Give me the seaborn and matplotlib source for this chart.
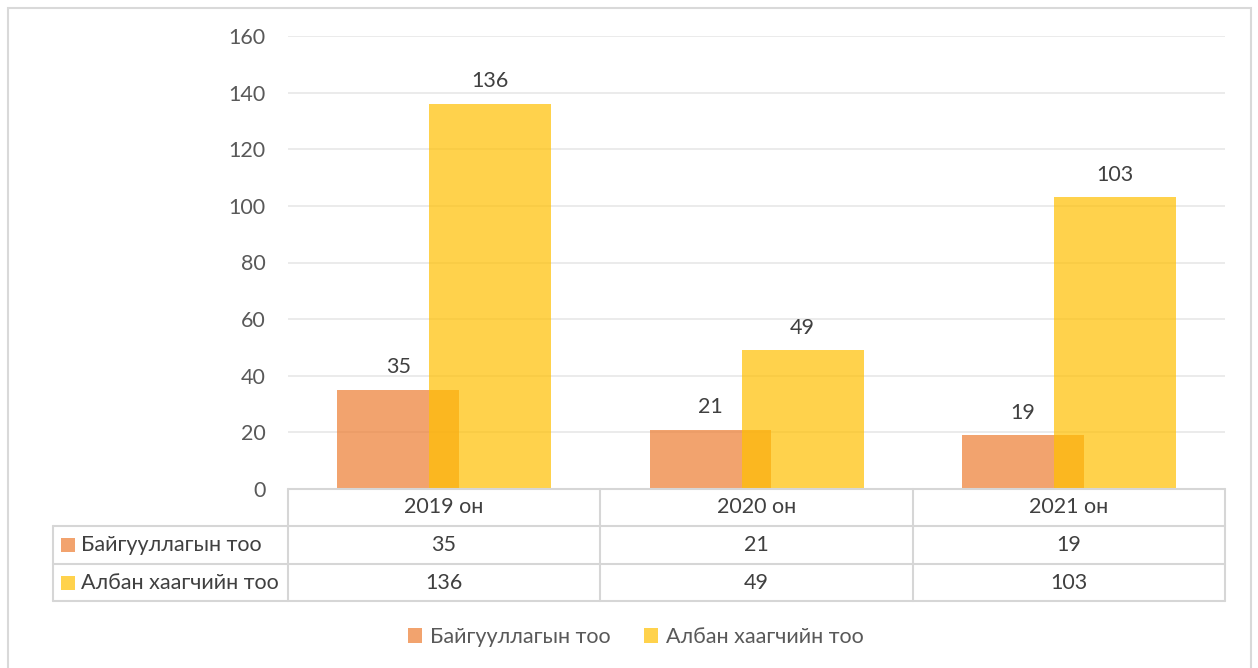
import numpy as np
import seaborn as sns
import matplotlib.pyplot as plt
from matplotlib.patches import Rectangle
from matplotlib.lines import Line2D

# data
years = ["2019 он", "2020 он", "2021 он"]
series_names = ["Байгууллагын тоо", "Албан хаагчийн тоо"]
org_count = [35, 21, 19]
staff_count = [136, 49, 103]

orange = "#ED7D31"
yellow = "#FFC000"
FS = 15.5

sns.set_theme(style="white")
plt.rcParams['font.family'] = ['Lato', 'DejaVu Sans']

W, H = 1258, 668
fig = plt.figure(figsize=(W / 100, H / 100), dpi=100)


def fx(px):
    return px / W


def fy(py):
    return 1 - py / H


# plot area in pixels
ax = fig.add_axes([fx(288), fy(489), fx(1225) - fx(288), fy(36) - fy(489)])

idx = np.arange(len(years))
sns.barplot(x=idx - 0.147, y=org_count, native_scale=True, width=0.39,
            color=orange, alpha=0.7, saturation=1, linewidth=0, ax=ax,
            label=series_names[0])
sns.barplot(x=idx + 0.148, y=staff_count, native_scale=True, width=0.39,
            color=yellow, alpha=0.7, saturation=1, linewidth=0, ax=ax,
            label=series_names[1])

for cont in ax.containers:
    ax.bar_label(cont, padding=9, fontsize=FS, color="#404040")

ax.set_xlim(-0.5, len(years) - 0.5)
ax.set_ylim(0, 160)
ax.set_yticks(range(0, 161, 20))
ax.set_xticks([])
ax.set_xlabel("")
ax.set_ylabel("")
ax.tick_params(axis="y", length=0, pad=16, labelsize=FS, labelcolor="#595959")
ax.yaxis.grid(True, color="#E8E8E8", linewidth=1.2)
ax.set_axisbelow(True)
for s in ax.spines.values():
    s.set_visible(False)
if ax.get_legend() is not None:
    ax.get_legend().remove()

# data table drawn below the axis
line_kw = dict(color="#D6D6D6", linewidth=1.5, transform=fig.transFigure)
col_edges = [288, 600, 913, 1225]
row_edges = [489, 526, 564, 601]
fig.lines.append(Line2D([fx(288), fx(1225)], [fy(489), fy(489)], **line_kw))
for r in row_edges[1:]:
    fig.lines.append(Line2D([fx(53), fx(1225)], [fy(r), fy(r)], **line_kw))
for c in col_edges:
    fig.lines.append(Line2D([fx(c), fx(c)], [fy(489), fy(601)], **line_kw))
fig.lines.append(Line2D([fx(53), fx(53)], [fy(526), fy(601)], **line_kw))

txt_kw = dict(fontsize=FS, color="#404040", ha="center", va="center")
for i, yr in enumerate(years):
    cx = (col_edges[i] + col_edges[i + 1]) / 2
    fig.text(fx(cx), fy(507), yr, **txt_kw)
    fig.text(fx(cx), fy(545), str(org_count[i]), **txt_kw)
    fig.text(fx(cx), fy(583), str(staff_count[i]), **txt_kw)

for j, (name, col) in enumerate(zip(series_names, [orange, yellow])):
    cy = 545 + 38 * j
    fig.patches.append(Rectangle((fx(61), fy(cy + 7)), fx(14), 14 / H,
                                 facecolor=col, alpha=0.7, linewidth=0,
                                 transform=fig.transFigure))
    fig.text(fx(81), fy(cy), name, fontsize=FS, color="#404040",
             ha="left", va="center")

# legend
handles = [Rectangle((0, 0), 1, 1, facecolor=c, alpha=0.7, linewidth=0)
           for c in [orange, yellow]]
fig.legend(handles, series_names, loc="center", bbox_to_anchor=(fx(636), fy(637)),
           ncol=2, frameon=False, fontsize=FS, handlelength=0.65,
           handleheight=0.65, handletextpad=0.37, columnspacing=1.55,
           labelcolor="#595959")

# chart frame
fig.patches.append(Rectangle((fx(8), fy(700)), fx(1251) - fx(8), (700 - 8) / H,
                             fill=False, edgecolor="#D9D9D9", linewidth=1.5,
                             transform=fig.transFigure))

fig.savefig("out.png", dpi=100)
